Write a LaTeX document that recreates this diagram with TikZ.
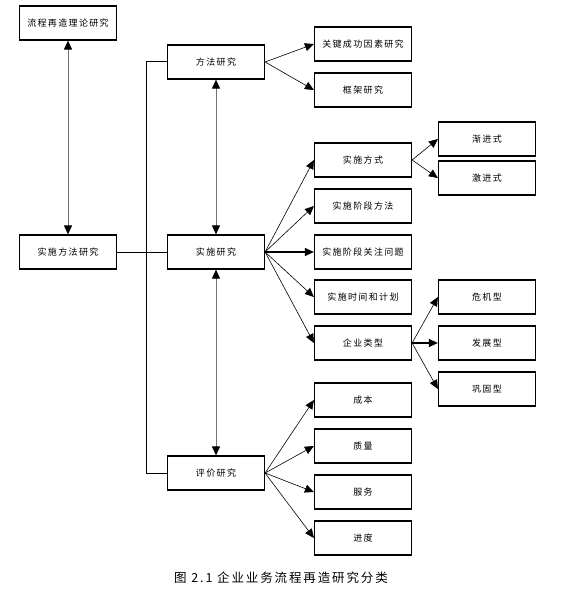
\documentclass[tikz,border=0pt]{standalone}
\usepackage{fontspec}
\usepackage{tikz}
\usetikzlibrary{arrows.meta}
\newfontfamily\cjk[LetterSpace=15]{Noto Sans CJK SC}

\begin{document}
\begin{tikzpicture}[x=1pt,y=-1pt]
        \tikzset{BoxStyle/.style={draw, line width=1.2pt, minimum width=97pt,
                minimum height=34pt, inner sep=0pt,
                font=\cjk\fontsize{9}{10}\selectfont},
            EdgeStyle/.style={-{Triangle[length=9pt,width=8pt]}, line width=0.6pt},
            BothStyle/.style={{Triangle[length=9pt,width=8pt,color=black]}-{Triangle[length=9pt,width=8pt,color=black]},
                line width=1pt, draw=black!55},
            LinkStyle/.style={line width=1pt}}
        \useasboundingbox (0,0) rectangle (575,591);
        % left column
        \node[BoxStyle] (theory) at (68,23) {流程再造理论研究};
        \node[BoxStyle] (practice) at (68,252) {实施方法研究};
        % middle column
        \node[BoxStyle] (method) at (216,62) {方法研究};
        \node[BoxStyle] (impl) at (216,252) {实施研究};
        \node[BoxStyle] (eval) at (216,473) {评价研究};
        % right column
        \node[BoxStyle] (factor) at (363,44) {关键成功因素研究};
        \node[BoxStyle] (frame) at (363,90) {框架研究};
        \node[BoxStyle] (mode) at (363,160) {实施方式};
        \node[BoxStyle] (stage) at (363,206) {实施阶段方法};
        \node[BoxStyle] (issue) at (363,252) {实施阶段关注问题};
        \node[BoxStyle] (plan) at (363,297) {实施时间和计划};
        \node[BoxStyle] (type) at (363,343) {企业类型};
        \node[BoxStyle] (cost) at (363,400) {成本};
        \node[BoxStyle] (quality) at (363,446) {质量};
        \node[BoxStyle] (service) at (363,492) {服务};
        \node[BoxStyle] (speed) at (363,538) {进度};
        % far right column
        \node[BoxStyle] (gradual) at (487,139) {渐进式};
        \node[BoxStyle] (radical) at (487,178) {激进式};
        \node[BoxStyle] (crisis) at (487,297) {危机型};
        \node[BoxStyle] (growth) at (487,343) {发展型};
        \node[BoxStyle] (stable) at (487,389) {巩固型};
        % caption
        \node[font=\cjk\fontsize{12.5}{13}\selectfont] (caption) at (281,578)
            {图 2.1 企业业务流程再造研究分类};
        % double arrows
        \draw[BothStyle] (theory) -- (practice);
        \draw[BothStyle] (method) -- (impl);
        \draw[BothStyle] (impl) -- (eval);
        % bracket
        \coordinate (bt) at (146,62);
        \coordinate (bb) at (146,473);
        \draw[LinkStyle] (method.west) -- (bt) -- (bb) -- (eval.west);
        \draw[LinkStyle] (practice.east) -- (impl.west);
        % fans
        \foreach \a/\b in {method/factor, method/frame, impl/mode, impl/stage,
                impl/plan, impl/type, mode/gradual, mode/radical, type/crisis,
                type/stable, eval/cost, eval/quality, eval/service, eval/speed}
            \draw[EdgeStyle] (\a.east) -- (\b.west);
        \draw[EdgeStyle, line width=1.2pt] (impl.east) -- (issue.west);
        \draw[EdgeStyle, line width=1.2pt] (type.east) -- (growth.west);
    \end{tikzpicture}
\end{document}
